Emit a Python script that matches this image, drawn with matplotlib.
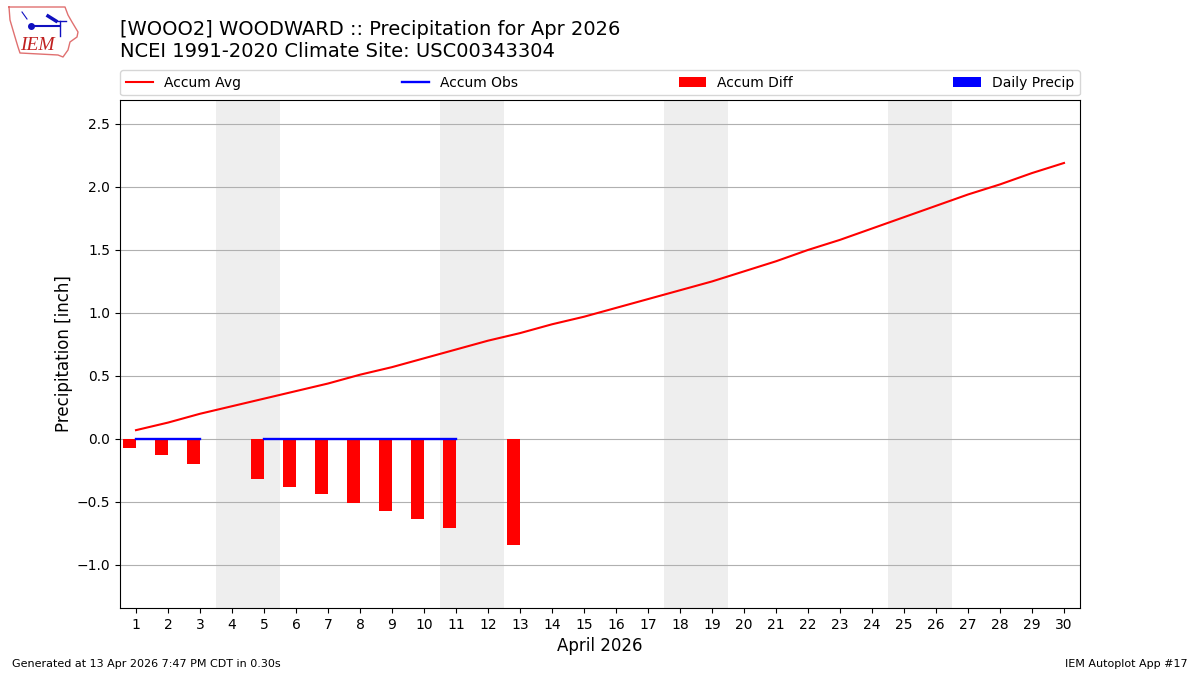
import matplotlib
matplotlib.use("Agg")
import matplotlib.pyplot as plt
import numpy as np

days = list(range(1, 31))
accum_avg = [0.07, 0.13, 0.20, 0.26, 0.32, 0.38, 0.44, 0.51, 0.57, 0.64,
             0.71, 0.78, 0.84, 0.91, 0.97, 1.04, 1.11, 1.18, 1.25, 1.33,
             1.41, 1.50, 1.58, 1.67, 1.76, 1.85, 1.94, 2.02, 2.11, 2.19]
obs_days = [1, 2, 3, np.nan, 5, 6, 7, 8, 9, 10, 11]
accum_obs = [0, 0, 0, np.nan, 0, 0, 0, 0, 0, 0, 0]
diff_days = [1, 2, 3, 5, 6, 7, 8, 9, 10, 11, 13]
accum_diff = [-0.07, -0.13, -0.20, -0.32, -0.38, -0.44, -0.51, -0.57, -0.635, -0.71, -0.84]
weekend_days = [4, 5, 11, 12, 18, 19, 25, 26]

# logo shapes, in pixels of the 130x70 corner of the figure
logo_x = [9, 65, 68, 72, 78, 77, 70, 68, 63, 58, 20, 18, 15, 10, 9]
logo_y = [7, 7, 15, 22, 32, 37, 42, 50, 57, 55, 53, 47, 37, 20, 7]

fig = plt.figure(figsize=(12, 6.75), dpi=100)
ax = fig.add_axes([0.1, 0.0993, 0.8, 0.7526])

for d in weekend_days:
    ax.axvspan(d - 0.5, d + 0.5, color="#eeeeee", lw=0, zorder=0)

ax.plot(days, accum_avg, color="r", label="Accum Avg", zorder=3)
ax.plot(obs_days, accum_obs, color="b", lw=1.7, label="Accum Obs", zorder=3)
ax.bar(np.array(diff_days) - 0.4, accum_diff, width=0.4, align="edge",
       color="r", label="Accum Diff", zorder=2)
ax.bar([0], [0], color="b", label="Daily Precip")

ax.set_xlim(0.5, 30.5)
ax.set_ylim(-1.341, 2.69)
ax.set_xticks(days)
ax.set_yticks([-1.0, -0.5, 0.0, 0.5, 1.0, 1.5, 2.0, 2.5])
ax.yaxis.grid(True, color="#b0b0b0")
ax.set_axisbelow(True)
ax.set_xlabel("April 2026", fontsize=12)
ax.set_ylabel("Precipitation [inch]", fontsize=12, labelpad=2.5)

ax.legend(loc="lower left", bbox_to_anchor=(0, 1.009, 1, 0.1), mode="expand",
          ncol=4, borderaxespad=0, fontsize=10)

fig.text(0.1, 0.91, "[WOOO2] WOODWARD :: Precipitation for Apr 2026\nNCEI 1991-2020 Climate Site: USC00343304",
         fontsize=14, va="bottom", ha="left")
fig.text(0.01, 0.012, "Generated at 13 Apr 2026 7:47 PM CDT in 0.30s", fontsize=8)
fig.text(0.99, 0.012, "IEM Autoplot App #17", fontsize=8, ha="right")

# rough IEM logo
logo = fig.add_axes([0, 1 - 70 / 675, 130 / 1200, 70 / 675])
logo.set_xlim(0, 130)
logo.set_ylim(70, 0)
logo.axis("off")
logo.plot(logo_x, logo_y, color="#e07070", lw=1)
logo.plot([31, 60], [26, 26], color="#1010c0", lw=1.5)
logo.plot([31], [26], "o", color="#1010c0", ms=4)
logo.plot([48, 56], [16, 21], color="#1010c0", lw=2.5)
logo.plot([56, 66], [21, 21], color="#1010c0", lw=1)
logo.plot([60, 60], [21, 36], color="#1010c0", lw=1)
logo.plot([22, 27], [12, 19], color="#1010c0", lw=0.8)
logo.text(37, 46, "IEM", fontsize=14, color="#c02020", style="italic",
          family="Liberation Serif", ha="center", va="center")

fig.savefig("out.png", dpi=100)
